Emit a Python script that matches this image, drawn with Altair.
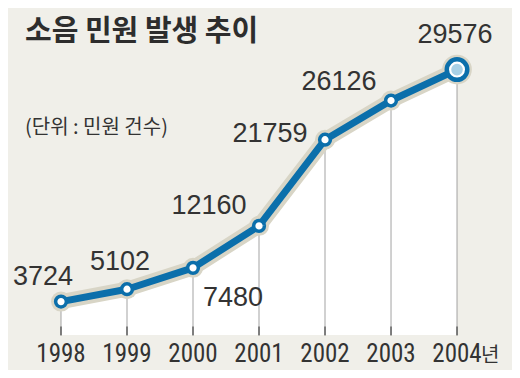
import altair as alt
import pandas as pd

years = [1998, 1999, 2000, 2001, 2002, 2003, 2004]
complaints = [3724, 5102, 7480, 12160, 21759, 26126, 29576]
year_labels = ["1998", "1999", "2000", "2001", "2002", "2003", "2004"]
title_text = "소음 민원 발생 추이"
unit_text = "(단위 : 민원 건수)"
year_suffix = "년"

df = pd.DataFrame({
    "year": years,
    "count": complaints,
    "label": [str(v) for v in complaints],
    "ylabel": year_labels,
})

W, H = 504, 362
BLUE = "#0b6fab"
HALO = "#d8d5c6"
BG = "#f0efe9"
TXT = "#333333"
NARROW = "Liberation Sans Narrow, Arial Narrow, Roboto Condensed, Open Sans Condensed, DejaVu Sans Condensed, Liberation Sans"

xenc = alt.X("year:Q", scale=alt.Scale(domain=[1997.197, 2004.833], nice=False, zero=False), axis=None)
yscale = alt.Scale(domain=[-3900, 36438], nice=False, zero=False)
yenc = alt.Y("count:Q", scale=yscale, axis=None)

base = alt.Chart(df).encode(x=xenc, y=yenc)

area = base.mark_area(color="white", opacity=1).encode(y2=alt.datum(0))
grid = base.mark_rule(color="#a3a3a3", strokeWidth=1).encode(y2=alt.datum(0))
ticks = alt.Chart(df).transform_calculate(zero="0").mark_tick(
    orient="vertical", size=9, thickness=1.5, color="#333333", yOffset=-4
).encode(x=xenc, y=alt.Y("zero:Q", scale=yscale, axis=None))

line_halo = base.mark_line(color=HALO, strokeWidth=15, strokeCap="round", strokeJoin="round")
line = base.mark_line(color=BLUE, strokeWidth=7, strokeJoin="round", strokeCap="round")

small = base.transform_filter(alt.datum.year < 2004)
pt_halo = small.mark_point(shape="circle", filled=True, color=HALO, size=400, opacity=1)
pts = small.mark_point(shape="circle", filled=True, fill="white", stroke=BLUE, strokeWidth=3.5, size=115, opacity=1)

big = base.transform_filter(alt.datum.year == 2004)
big_halo = big.mark_point(shape="circle", filled=True, color=HALO, size=880, opacity=1)
big_ring = big.mark_point(shape="circle", filled=True, fill="white", stroke=BLUE, strokeWidth=4.5, size=420, opacity=1)
big_core = big.mark_point(shape="circle", filled=True, color="#a9d1e6", size=135, opacity=1)

label_offsets = {
    1998: (-18, -17),
    1999: (-7, -19),
    2000: (40, 38),
    2001: (-50, -12),
    2002: (-55, 2),
    2003: (-52, -11),
    2004: (-2, -27),
}
labels = []
for yr, (dx, dy) in label_offsets.items():
    labels.append(
        base.transform_filter(alt.datum.year == yr).mark_text(
            font="Liberation Sans", fontSize=27, align="center", baseline="alphabetic",
            color=TXT, dx=dx, dy=dy
        ).encode(text="label:N")
    )

year_text = alt.Chart(df).mark_text(
    font=NARROW, fontSize=25, align="center", baseline="alphabetic", color=TXT
).encode(x=xenc, y=alt.value(354), text="ylabel:N")

suffix = alt.Chart(df).transform_filter(alt.datum.year == 2004).mark_text(
    font="Noto Sans CJK KR", fontSize=20, align="left", baseline="alphabetic", color=TXT, dx=24
).encode(x=xenc, y=alt.value(354), text=alt.value(year_suffix))

title = alt.Chart(pd.DataFrame({"t": [title_text]})).mark_text(
    font="Noto Sans CJK KR", fontSize=29, fontWeight="bold", align="left",
    baseline="alphabetic", color="#2d2d2d"
).encode(x=alt.value(17), y=alt.value(33), text="t:N")

subtitle = alt.Chart(pd.DataFrame({"t": [unit_text]})).mark_text(
    font="Noto Sans CJK KR", fontSize=20, align="left",
    baseline="alphabetic", color=TXT
).encode(x=alt.value(17), y=alt.value(126), text="t:N")

chart = alt.layer(
    area, grid, ticks, line_halo, pt_halo, big_halo, line, pts, big_ring, big_core,
    *labels, year_text, suffix, title, subtitle
).properties(
    width=W, height=H,
    autosize=alt.AutoSizeParams(type="none"),
    padding=0,
    background=BG,
).configure_view(stroke=None)

chart.save("out.html", embed_options={"renderer": "svg", "actions": False})
